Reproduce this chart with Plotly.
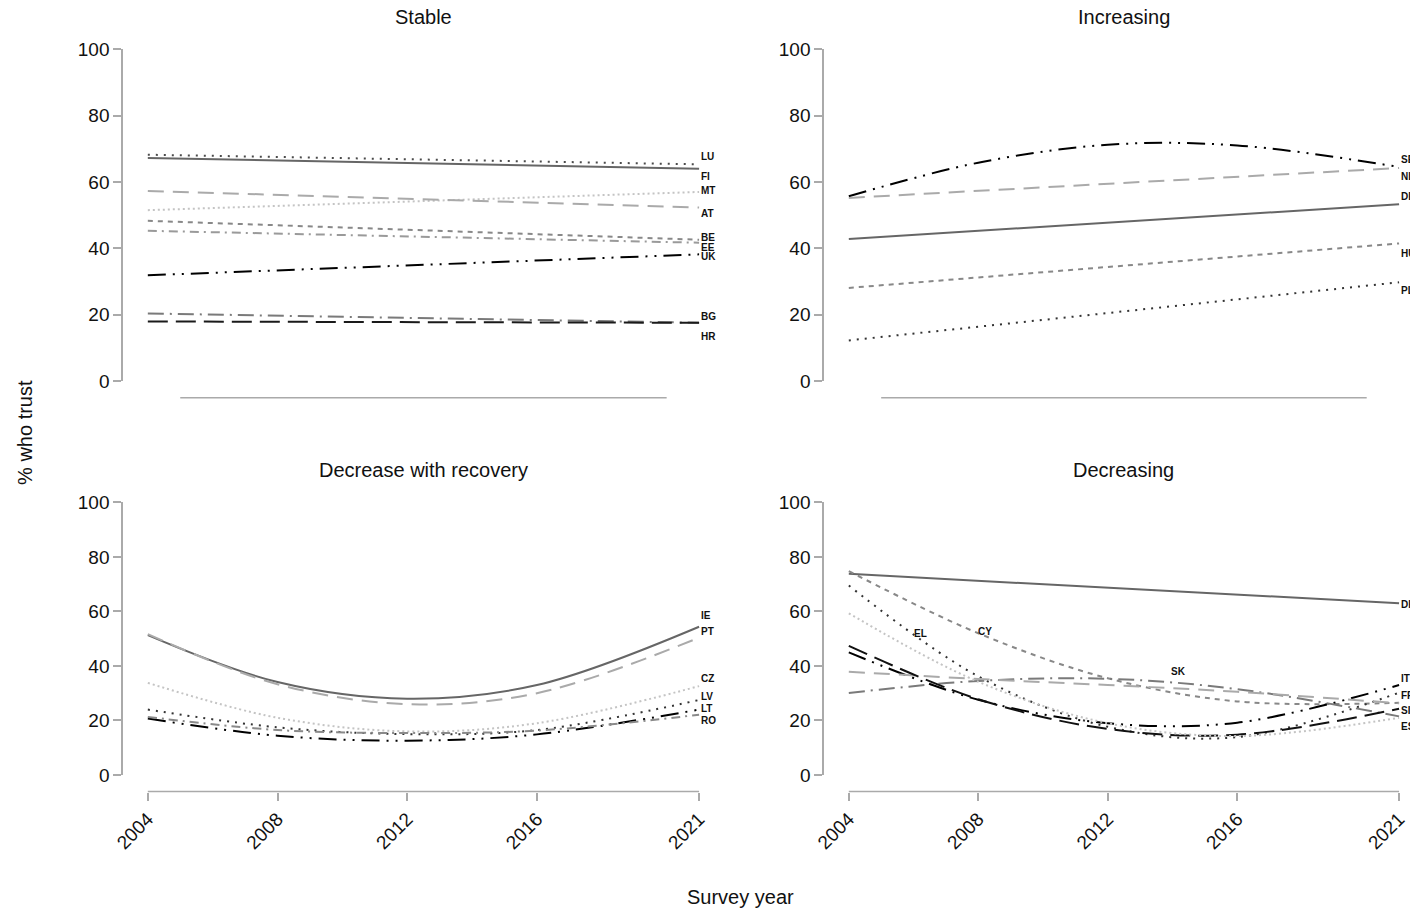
import plotly.graph_objects as go

# ---------------------------------------------------------------------------
# Data: share of respondents who trust (%), by survey year
# ---------------------------------------------------------------------------
LINE_YEARS = [2004, 2021]
CURVE_YEARS = [2004, 2008, 2012, 2016, 2021]

# Stable group (straight fitted trends)
stable_codes = ["LU", "FI", "MT", "AT", "BE", "EE", "UK", "BG", "HR"]
stable_2004 = [68.2, 67.2, 51.5, 57.3, 48.3, 45.3, 31.9, 20.4, 18.0]
stable_2021 = [65.3, 64.0, 57.0, 52.3, 42.6, 41.7, 38.2, 17.6, 17.6]
stable_label_y = [67.8, 61.7, 57.5, 50.6, 43.4, 40.4, 37.7, 19.6, 13.6]

# Increasing group (SE is curved; None = straight between the ends)
increasing_codes = ["SE", "NL", "DE", "HU", "PL"]
increasing_values = [
    [55.7, 65.8, 71.2, 71.0, 64.5],
    [55.2, None, None, None, 64.2],
    [42.8, None, None, None, 53.3],
    [28.1, None, None, None, 41.5],
    [12.3, None, None, None, 29.8],
]
increasing_label_y = [66.9, 61.7, 55.7, 38.6, 27.4]

# Decrease with recovery group
recovery_codes = ["IE", "PT", "CZ", "LV", "LT", "RO"]
recovery_values = [
    [51.3, 34.1, 28.0, 33.0, 54.4],
    [51.7, 33.3, 26.0, 30.0, 50.4],
    [33.8, 21.0, 16.0, 19.0, 32.6],
    [24.0, 17.5, 15.0, 16.5, 27.5],
    [20.7, 14.4, 12.6, 14.9, 24.0],
    [21.3, 16.5, 15.4, 16.3, 22.1],
]
recovery_label_y = [58.6, 52.7, 35.5, 28.9, 24.5, 20.1]

# Decreasing group
decreasing_codes = ["DK", "CY", "EL", "SK", "IT", "FR", "SI", "ES"]
decreasing_values = [
    [73.8, None, None, None, 63.0],
    [74.8, 52.0, 35.5, 27.0, 26.5],
    [69.5, 36.2, 17.7, 13.9, 30.2],
    [30.1, 34.5, 35.3, 31.5, 21.5],
    [45.0, 27.6, 19.0, 19.2, 33.0],
    [37.9, 35.2, 33.0, 30.5, 26.3],
    [47.4, 27.8, 16.9, 14.8, 24.3],
    [59.3, 34.2, 19.0, 14.3, 21.0],
]
# label positions: (year, value); year None = right margin
decreasing_label_x = [None, 2008.2, 2006.2, 2014.2, None, None, None, None]
decreasing_label_y = [62.6, 52.7, 52.0, 38.1, 35.5, 29.3, 23.8, 17.9]

X_TICKS = [2004, 2008, 2012, 2016, 2021]
Y_TICKS = [0, 20, 40, 60, 80, 100]

# ---------------------------------------------------------------------------
# Line styles
# ---------------------------------------------------------------------------
SOLID = "solid"
DOT_DARK = "2px,6px"
DOT_LIGHT = "2px,3px"
LONGDASH = "16px,9px"
SHORTDASH = "5px,5px"
DASHDOT = "9px,5px,2px,5px"
TWODOT = "18px,7px,2px,7px,2px,7px"
LONGDASHDOT = "16px,6px,2px,6px"
HEAVYDASH = "20px,8px"

stable_style = [
    ("#4a4a4a", DOT_DARK), ("#666666", SOLID), ("#c4c4c4", DOT_LIGHT),
    ("#aaaaaa", LONGDASH), ("#888888", SHORTDASH), ("#9a9a9a", DASHDOT),
    ("#000000", TWODOT), ("#7a7a7a", LONGDASHDOT), ("#1a1a1a", HEAVYDASH),
]
increasing_style = [
    ("#000000", TWODOT), ("#aaaaaa", LONGDASH), ("#666666", SOLID),
    ("#888888", SHORTDASH), ("#333333", DOT_DARK),
]
recovery_style = [
    ("#666666", SOLID), ("#aaaaaa", LONGDASH), ("#c4c4c4", DOT_LIGHT),
    ("#333333", DOT_DARK), ("#000000", TWODOT), ("#8a8a8a", DASHDOT),
]
decreasing_style = [
    ("#666666", SOLID), ("#888888", SHORTDASH), ("#333333", DOT_DARK),
    ("#7a7a7a", LONGDASHDOT), ("#000000", TWODOT), ("#aaaaaa", LONGDASH),
    ("#111111", HEAVYDASH), ("#c4c4c4", DOT_LIGHT),
]

# ---------------------------------------------------------------------------
# Page geometry (pixels)
# ---------------------------------------------------------------------------
W, H = 1410, 913
FONT = "Liberation Sans, Arial, Helvetica, sans-serif"
AXIS_GREY = "#aaaaaa"
TEXT = "#111111"


def fx(x):
    return x / W


def fy(y):
    return 1 - y / H


# column: (y-axis line, 2004 position, 2021 position, right edge)
COLS = {"L": (114, 139, 695, 703), "R": (821, 846, 1401, 1409)}
# row: (y=100 position, y=0 position, x-axis line position, title position)
ROWS = {"T": (40, 380, 397, 7), "B": (504, 783, 800, 471)}

panels = [
    ("1", "L", "T", "Stable"),
    ("2", "R", "T", "Increasing"),
    ("3", "L", "B", "Decrease with recovery"),
    ("4", "R", "B", "Decreasing"),
]

fig = go.Figure()
layout = dict(
    width=W, height=H, margin=dict(l=0, r=0, t=0, b=0),
    paper_bgcolor="white", plot_bgcolor="white", showlegend=False,
    font=dict(family=FONT, color=TEXT),
)
shapes, annotations = [], []

for pid, col, row, title in panels:
    ax, x04, x21, right = COLS[col]
    top, bottom, xline, ytitle = ROWS[row]
    k = (x21 - x04) / 17.0
    xr = [2004 - (x04 - ax) / k, 2021 + (right - x21) / k]
    xa = dict(
        domain=[fx(ax), fx(right)], range=xr, showgrid=False, zeroline=False,
        showline=False, anchor="free", position=fy(xline),
    )
    if row == "B":
        xa.update(
            tickvals=X_TICKS, ticktext=[str(v) for v in X_TICKS], ticks="outside",
            ticklen=8, tickwidth=1.5, tickcolor=AXIS_GREY, tickangle=-45,
            tickfont=dict(size=19, family=FONT, color=TEXT),
        )
        x_from, x_to = 2004, 2021
    else:
        xa.update(showticklabels=False, ticks="")
        x_from, x_to = 2005, 2020
    ya = dict(
        domain=[fy(bottom), fy(top)], range=[0, 100], anchor="x" + pid,
        showgrid=False, zeroline=False, showline=True, linecolor=AXIS_GREY,
        linewidth=1.5, ticks="outside", ticklen=8, tickwidth=1.5,
        tickcolor=AXIS_GREY, tickvals=Y_TICKS,
        tickfont=dict(size=19, family=FONT, color=TEXT),
    )
    layout["xaxis" + ("" if pid == "1" else pid)] = xa
    layout["yaxis" + ("" if pid == "1" else pid)] = ya
    shapes.append(dict(
        type="line", xref="x" + pid, yref="paper", x0=x_from, x1=x_to,
        y0=fy(xline), y1=fy(xline), line=dict(color=AXIS_GREY, width=1.5),
    ))
    annotations.append(dict(
        text=title, xref="paper", yref="paper", x=fx((x04 + x21) / 2),
        y=fy(ytitle), xanchor="center", yanchor="middle", showarrow=False,
        font=dict(size=20, family=FONT, color=TEXT),
    ))


def add_series(pid, years, values, style):
    color, dash = style
    fig.add_trace(go.Scatter(
        x=years, y=values, mode="lines", connectgaps=True,
        line=dict(color=color, width=2, dash=dash, shape="spline", smoothing=1.0),
        xaxis="x" + pid, yaxis="y" + pid, hoverinfo="skip",
    ))


def add_label(pid, text, x, y, anchor="left"):
    annotations.append(dict(
        text=text, xref="x" + pid, yref="y" + pid, x=x, y=y,
        xanchor=anchor, yanchor="middle", showarrow=False,
        font=dict(size=10, family=FONT, color=TEXT, weight="bold"),
    ))


# Stable
for code, v0, v1, ly, st in zip(stable_codes, stable_2004, stable_2021,
                                stable_label_y, stable_style):
    add_series("1", LINE_YEARS, [v0, v1], st)
    add_label("1", code, 2021, ly)

# Increasing
for code, vals, ly, st in zip(increasing_codes, increasing_values,
                              increasing_label_y, increasing_style):
    add_series("2", CURVE_YEARS, vals, st)
    add_label("2", code, 2021, ly)

# Decrease with recovery
for code, vals, ly, st in zip(recovery_codes, recovery_values,
                              recovery_label_y, recovery_style):
    add_series("3", CURVE_YEARS, vals, st)
    add_label("3", code, 2021, ly)

# Decreasing
for code, vals, lx, ly, st in zip(decreasing_codes, decreasing_values,
                                  decreasing_label_x, decreasing_label_y,
                                  decreasing_style):
    add_series("4", CURVE_YEARS, vals, st)
    if lx is None:
        add_label("4", code, 2021, ly)
    else:
        add_label("4", code, lx, ly, anchor="center")

# Shared axis titles
annotations.append(dict(
    text="% who trust", xref="paper", yref="paper", x=fx(15), y=fy(432),
    xanchor="center", yanchor="middle", textangle=-90, showarrow=False,
    font=dict(size=20, family=FONT, color=TEXT),
))
annotations.append(dict(
    text="Survey year", xref="paper", yref="paper", x=fx(737), y=fy(908),
    xanchor="center", yanchor="middle", showarrow=False,
    font=dict(size=20, family=FONT, color=TEXT),
))

layout["shapes"] = shapes
layout["annotations"] = annotations
fig.update_layout(**layout)

fig.write_html("out.html")
